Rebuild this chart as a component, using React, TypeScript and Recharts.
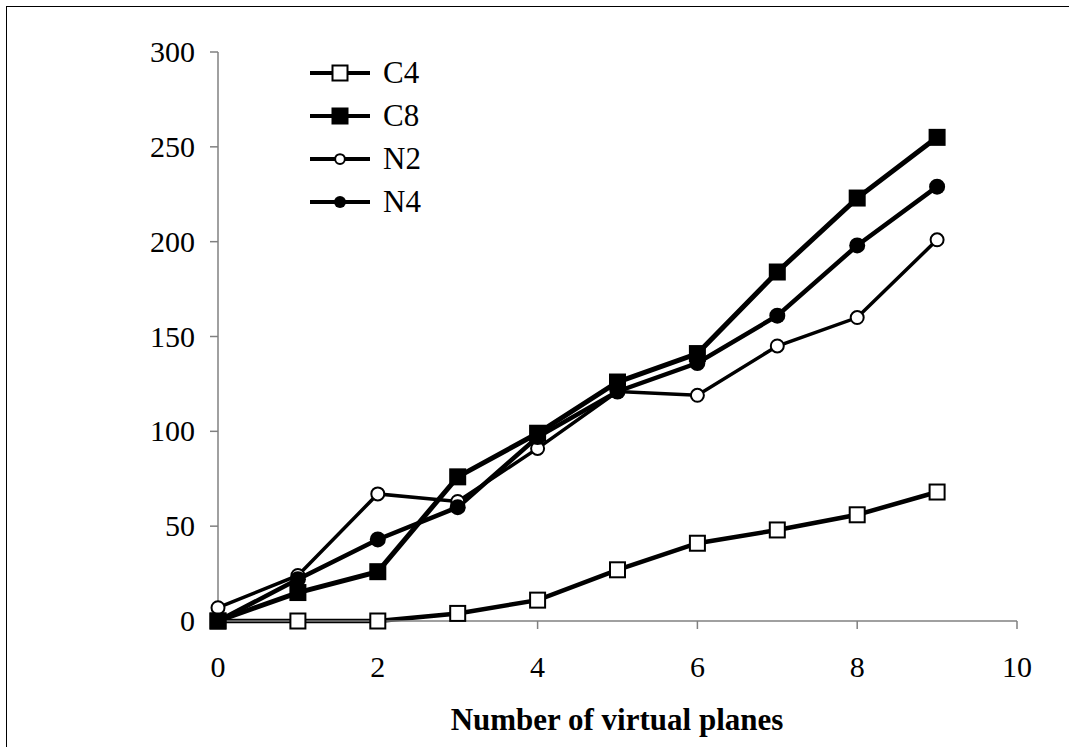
import React from "react";
import { LineChart, Line, XAxis, YAxis } from "recharts";

const planes = [0, 1, 2, 3, 4, 5, 6, 7, 8, 9];
const c4 = [0, 0, 0, 4, 11, 27, 41, 48, 56, 68];
const c8 = [0, 15, 26, 76, 99, 126, 141, 184, 223, 255];
const n2 = [7, 24, 67, 63, 91, 121, 119, 145, 160, 201];
const n4 = [0, 22, 43, 60, 97, 121, 136, 161, 198, 229];
const xTicks = [0, 2, 4, 6, 8, 10];
const yTicks = [0, 50, 100, 150, 200, 250, 300];

const FONT = "Liberation Serif";

type Marker = "openSquare" | "square" | "openCircle" | "circle";

const series: { key: string; name: string; marker: Marker; width: number }[] = [
  { key: "c4", name: "C4", marker: "openSquare", width: 4.5 },
  { key: "n2", name: "N2", marker: "openCircle", width: 3.5 },
  { key: "n4", name: "N4", marker: "circle", width: 4.5 },
  { key: "c8", name: "C8", marker: "square", width: 5 },
];
const legendOrder = ["c4", "c8", "n2", "n4"];

const data = planes.map((p, i) => ({ x: p, c4: c4[i], c8: c8[i], n2: n2[i], n4: n4[i] }));

function drawMarker(marker: Marker, cx: number, cy: number, circleScale = 1) {
  if (marker === "openSquare") {
    const s = 15;
    return <rect x={cx - s / 2} y={cy - s / 2} width={s} height={s} fill="#fff" stroke="#000" strokeWidth={2} />;
  }
  if (marker === "square") {
    const s = 17;
    return <rect x={cx - s / 2} y={cy - s / 2} width={s} height={s} fill="#000" />;
  }
  if (marker === "openCircle") {
    return <circle cx={cx} cy={cy} r={6.5 * circleScale} fill="#fff" stroke="#000" strokeWidth={2} />;
  }
  return <circle cx={cx} cy={cy} r={8 * circleScale} fill="#000" />;
}

function makeDot(marker: Marker) {
  return (props: any) => {
    const { cx, cy, index } = props;
    if (cx == null || cy == null) return <g key={index} />;
    return <g key={index}>{drawMarker(marker, cx, cy)}</g>;
  };
}

// tick renderers so font size and family are applied for sure
function XTick(props: any) {
  const { x, y, payload } = props;
  return (
    <text x={x} y={y + 22} textAnchor="middle" fontFamily={FONT} fontSize={30} fill="#000">
      {payload.value}
    </text>
  );
}

function YTick(props: any) {
  const { x, y, payload } = props;
  return (
    <text x={x} y={y + 10} textAnchor="end" fontFamily={FONT} fontSize={30} fill="#000">
      {payload.value}
    </text>
  );
}

export default function App() {
  return (
    <div style={{ position: "absolute", left: 0, top: 0, width: 1069, height: 747, overflow: "hidden", background: "#fff", fontFamily: FONT }}>
      <div style={{ position: "absolute", left: 6, top: 6, width: 1100, height: 800, borderTop: "1.5px solid #000", borderLeft: "1.5px solid #000" }} />
      <LineChart width={1069} height={747} data={data} margin={{ top: 52, right: 52, left: 0, bottom: 0 }} style={{ position: "absolute", left: 0, top: 0 }}>
        <XAxis
          dataKey="x"
          type="number"
          domain={[0, 10]}
          ticks={xTicks}
          height={126}
          stroke="#808080"
          strokeWidth={1.5}
          tickSize={8}
          tickMargin={26}
          tick={<XTick />}
          label={{
            content: () => (
              <text x={617} y={730} textAnchor="middle" fontFamily={FONT} fontSize={31} fontWeight="bold" fill="#000">
                Number of virtual planes
              </text>
            ),
          }}
        />
        <YAxis
          type="number"
          domain={[0, 300]}
          ticks={yTicks}
          width={218}
          stroke="#808080"
          strokeWidth={1.5}
          tickSize={8}
          tickMargin={15}
          tick={<YTick />}
        />
        {series.map((s) => (
          <Line
            key={s.key}
            type="linear"
            dataKey={s.key}
            name={s.name}
            stroke="#000"
            strokeWidth={s.width}
            dot={makeDot(s.marker)}
            activeDot={false}
            isAnimationActive={false}
          />
        ))}
      </LineChart>
      <div style={{ position: "absolute", left: 308, top: 51 }}>
        {legendOrder.map((k) => {
          const s = series.find((x) => x.key === k)!;
          return (
            <div key={k} style={{ display: "flex", alignItems: "center", height: 43 }}>
              <svg width={64} height={20} style={{ display: "block" }}>
                <line x1={2} y1={10} x2={62} y2={10} stroke="#000" strokeWidth={4} />
                {drawMarker(s.marker, 32, 10, 0.75)}
              </svg>
              <span style={{ marginLeft: 11, fontSize: 31, color: "#000", lineHeight: "31px", fontFamily: FONT }}>{s.name}</span>
            </div>
          );
        })}
      </div>
    </div>
  );
}
